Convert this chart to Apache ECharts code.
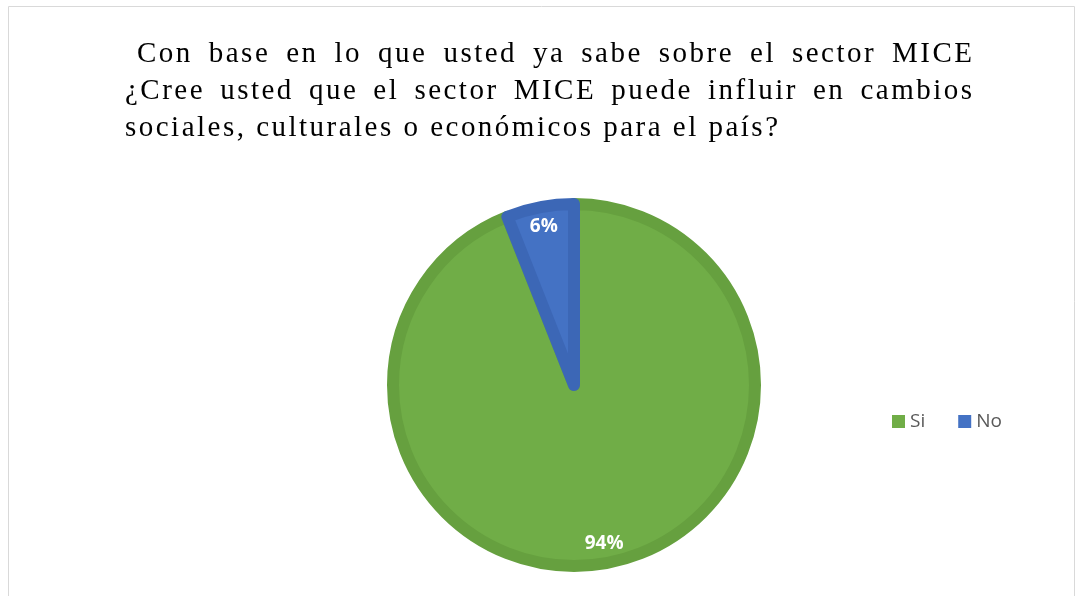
<!DOCTYPE html>
<html>
<head>
<meta charset="utf-8">
<script src="https://cdn.jsdelivr.net/npm/echarts@6/dist/echarts.min.js"></script>
<style>
html,body{margin:0;padding:0;background:#fff;}
#chart{width:1078px;height:596px;}
</style>
</head>
<body>
<div id="chart"></div>
<script>
// ---- data ----
const CATEGORIES = ['Si', 'No'];
const VALUES = [94, 6];
const TITLE_LINES = [
  'Con base en lo que usted ya sabe sobre el sector MICE',
  '¿Cree usted que el sector MICE puede influir en cambios',
  'sociales, culturales o económicos para el país?'
];

// ---- style ----
const FILL = ['#70AD47', '#4472C4'];
const EDGE = ['#66A03F', '#3C67B6'];
const TITLE_FONT_SIZE = 29;
const TITLE_FAMILY = "'Liberation Serif', 'Times New Roman', serif";
const TITLE_FONT = TITLE_FONT_SIZE + 'px ' + TITLE_FAMILY;
const LINE_LAYOUT = [
  {x0: 137, x1: 972, y: 69, justify: true},
  {x0: 125, x1: 972, y: 106, justify: true},
  {x0: 125, x1: 778, y: 143, justify: false}
];

const ctx = document.createElement('canvas').getContext('2d');
ctx.font = TITLE_FONT;
const cw = ch => ctx.measureText(ch).width;
// letter spacing derived from the last (non-justified) line's width
const last = TITLE_LINES[2];
const lastNat = ctx.measureText(last).width;
const LS = (LINE_LAYOUT[2].x1 - LINE_LAYOUT[2].x0 - lastNat) / (last.length - 1);

const graphics = [];
graphics.push({
  type: 'rect', shape: {x: 8.5, y: 6.5, width: 1066, height: 620},
  style: {fill: 'none', stroke: '#D9D9D9', lineWidth: 1}, silent: true, z: 0
});
TITLE_LINES.forEach((line, li) => {
  const L = LINE_LAYOUT[li];
  const words = line.split(' ');
  const wordW = words.map(w => {
    let s = 0; for (const c of w) s += cw(c) + LS; return s - LS;
  });
  let gap;
  if (L.justify) {
    const total = wordW.reduce((a, b) => a + b, 0);
    gap = (L.x1 - L.x0 - total) / (words.length - 1);
  } else {
    gap = cw(' ') + 2 * LS;
  }
  let x = L.x0;
  words.forEach((w, wi) => {
    let cx = x;
    for (const c of w) {
      graphics.push({
        type: 'text', x: cx, y: L.y, silent: true,
        style: {text: c, font: TITLE_FONT, fill: '#000', textAlign: 'left', textVerticalAlign: 'bottom'}
      });
      cx += cw(c) + LS;
    }
    x += wordW[wi] + gap;
  });
});

const chart = echarts.init(document.getElementById('chart'), null, {renderer: 'canvas'});
const pieData = CATEGORIES.map((n, i) => ({
  name: n, value: VALUES[i],
  itemStyle: {color: FILL[i], borderColor: EDGE[i], borderWidth: 12}
}));
chart.setOption({
  animation: false,
  legend: {
    data: CATEGORIES,
    left: 892, top: 412, padding: 0,
    itemWidth: 13, itemHeight: 13, itemGap: 33,
    icon: 'rect',
    itemStyle: {borderWidth: 0},
    textStyle: {fontFamily: "'Open Sans', sans-serif", fontSize: 19, color: '#595959'}
  },
  series: [
    {
      type: 'pie', center: [574, 385], radius: 181,
      startAngle: 90, clockwise: true, silent: true,
      label: {show: false}, labelLine: {show: false},
      data: pieData
    },
    {
      type: 'pie', center: [574, 385], radius: [0, 316],
      startAngle: 90, clockwise: true, silent: true,
      itemStyle: {color: 'rgba(0,0,0,0)', borderWidth: 0},
      label: {
        show: true, position: 'inside', formatter: '{d}%',
        color: '#fff', fontWeight: 'bold', fontSize: 19, fontFamily: "'Open Sans', sans-serif"
      },
      labelLine: {show: false},
      data: CATEGORIES.map((n, i) => ({name: n, value: VALUES[i]}))
    }
  ],
  graphic: graphics
});
</script>
</body>
</html>
